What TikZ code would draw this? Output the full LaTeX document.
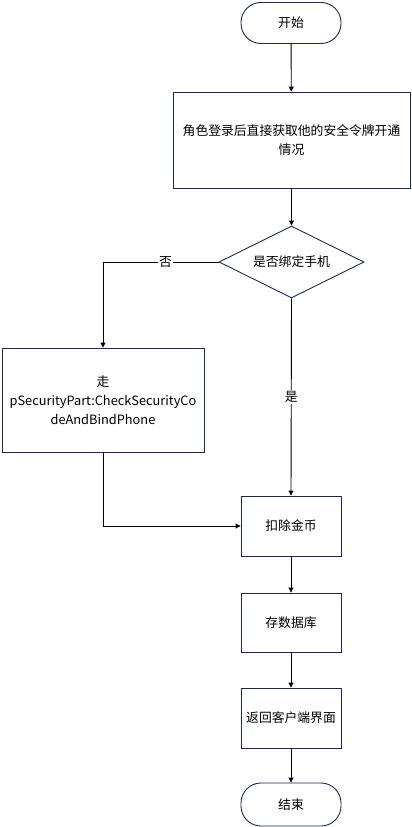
\documentclass[tikz,border=0pt]{standalone}
\usepackage{fontspec}
\setmainfont{Noto Sans CJK SC}
\usetikzlibrary{shapes.geometric,arrows.meta}
\definecolor{boxline}{HTML}{1F2A4F}
\tikzset{
  procbox/.style={draw=boxline, line width=0.9pt, minimum width=100pt, minimum height=60pt, align=center, inner sep=2pt},
  termbox/.style={draw=boxline, line width=0.9pt, rounded corners=20pt, minimum width=100pt, minimum height=41pt},
  decbox/.style={draw=boxline, line width=0.9pt, diamond, aspect=2, minimum width=145pt, minimum height=72pt, inner sep=0pt},
  flow/.style={line width=0.9pt, -{Triangle[width=5pt,length=5pt]}},
  lbl/.style={fill=white, inner sep=1pt}
}
\begin{document}
\begin{tikzpicture}[x=1pt, y=-1pt, font=\fontsize{12.8}{19}\selectfont]
\useasboundingbox (0,0) rectangle (412,827);
\node[termbox] (start) at (291,23) {开始};
\node[procbox, minimum width=237pt, minimum height=96pt] (login) at (291.5,140) {角色登录后直接获取他的安全令牌开通\\情况};
\node[decbox] (bind) at (291.5,262) {是否绑定手机};
\node[procbox, minimum width=202pt, minimum height=104pt] (check) at (103,400) {走\\pSecurityPart:CheckSecurityCo\\deAndBindPhone};
\node[procbox] (coin) at (291,526) {扣除金币};
\node[procbox, minimum height=59pt] (save) at (291,622.5) {存数据库};
\node[procbox] (back) at (291,718) {返回客户端界面};
\node[termbox, minimum height=43pt] (stop) at (291,804.5) {结束};
% connectors
\draw[flow] (start) -- (login);
\draw[flow] (login) -- (bind);
\draw[flow] (bind.west) -| node[lbl, pos=0.23] {否} (check.north);
\draw[flow] (bind.south) -- node[lbl, pos=0.5] {是} (coin.north);
\draw[flow] (check.south) |- (coin.west);
\draw[flow] (coin) -- (save);
\draw[flow] (save) -- (back);
\draw[flow] (back) -- (stop);
\end{tikzpicture}
\end{document}
